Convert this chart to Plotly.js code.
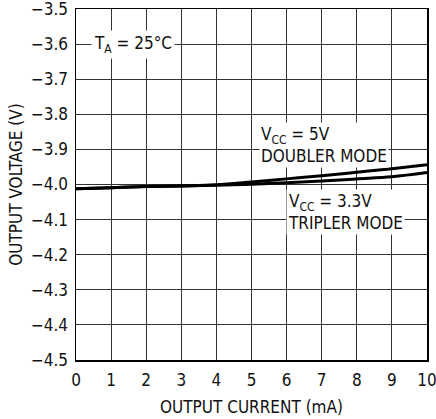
<!DOCTYPE html>
<html>
<head>
<meta charset="utf-8">
<script src="https://cdn.plot.ly/plotly-3.0.1.min.js"></script>
<style>html,body{margin:0;padding:0;background:#fff;}#chart{width:436px;height:419px;}</style>
</head>
<body>
<div id="chart"></div>
<script>
const outputCurrent = [0, 1, 2, 3, 4, 5, 6, 7, 8, 9, 10];
const doublerVout = [-4.012, -4.009, -4.006, -4.004, -4.001, -3.993, -3.984, -3.975, -3.965, -3.955, -3.944];
const triplerVout = [-4.012, -4.009, -4.006, -4.004, -4.002, -3.999, -3.995, -3.990, -3.984, -3.978, -3.966];
const xTicks = [0, 1, 2, 3, 4, 5, 6, 7, 8, 9, 10];
const yTicks = [-4.5, -4.4, -4.3, -4.2, -4.1, -4.0, -3.9, -3.8, -3.7, -3.6, -3.5];

const FONT = '"DejaVu Sans Condensed", "Liberation Sans Narrow", Arial, sans-serif';
const FS = 17;

const traces = [
  {x: outputCurrent, y: doublerVout, mode: 'lines', line: {color: '#000', width: 3, shape: 'spline'}, hoverinfo: 'skip', cliponaxis: false},
  {x: outputCurrent, y: triplerVout, mode: 'lines', line: {color: '#000', width: 3, shape: 'spline'}, hoverinfo: 'skip', cliponaxis: false}
];

const layout = {
  width: 436, height: 419,
  margin: {l: 76, r: 9, t: 9, b: 59},
  paper_bgcolor: '#fff', plot_bgcolor: '#fff',
  showlegend: false,
  font: {family: FONT, size: FS, color: '#111'},
  xaxis: {
    range: [-0.0001, 10.0001], tickvals: xTicks, ticktext: xTicks.map(String),
    showgrid: true, gridcolor: '#333', gridwidth: 1,
    zeroline: false, showline: true, linecolor: '#000', linewidth: 1.5, mirror: true,
    ticks: '', ticklen: 0, ticklabelstandoff: 4, ticklabeloverflow: 'allow',
    tickfont: {family: FONT, size: FS, color: '#111'},
    title: {text: 'OUTPUT CURRENT (mA)', font: {family: FONT, size: FS, color: '#111'}, standoff: 12}
  },
  yaxis: {
    range: [-4.50001, -3.49999], tickvals: yTicks, ticktext: yTicks.map(v => (v < 0 ? '\u2212' : '') + Math.abs(v).toFixed(1)),
    showgrid: true, gridcolor: '#333', gridwidth: 1,
    zeroline: false, showline: true, linecolor: '#000', linewidth: 1.5, mirror: true,
    ticks: '', ticklen: 0, ticklabelstandoff: 3, ticklabeloverflow: 'allow',
    tickfont: {family: FONT, size: FS, color: '#111'},
    title: {text: 'OUTPUT VOLTAGE (V)', font: {family: FONT, size: FS, color: '#111'}, standoff: 4}
  },
  annotations: [
    {x: 1.62, y: -3.6, xref: 'x', yref: 'y', text: 'T<sub>A</sub> = 25°C', showarrow: false,
     xanchor: 'center', yanchor: 'middle', bgcolor: '#fff', borderpad: 2,
     font: {family: FONT, size: FS, color: '#111'}},
    {x: 5.22, y: -3.888, xref: 'x', yref: 'y', text: 'V<sub>CC</sub> = 5V<br>DOUBLER MODE', showarrow: false,
     xanchor: 'left', yanchor: 'middle', align: 'left', bgcolor: '#fff', borderpad: 1,
     font: {family: FONT, size: FS, color: '#111'}},
    {x: 5.98, y: -4.077, xref: 'x', yref: 'y', text: 'V<sub>CC</sub> = 3.3V<br>TRIPLER MODE', showarrow: false,
     xanchor: 'left', yanchor: 'middle', align: 'left', bgcolor: '#fff', borderpad: 1,
     font: {family: FONT, size: FS, color: '#111'}}
  ]
};

Plotly.newPlot('chart', traces, layout, {staticPlot: true, displayModeBar: false});
</script>
</body>
</html>
